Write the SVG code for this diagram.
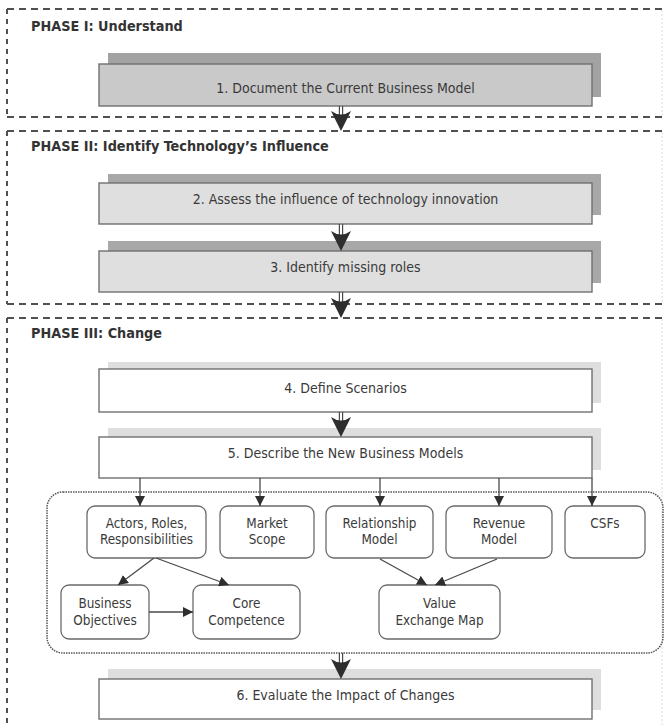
<svg xmlns="http://www.w3.org/2000/svg" width="664" height="726" viewBox="0 0 664 726">
  <style>
    .phase { fill: none; stroke: #505050; stroke-width: 2; stroke-dasharray: 7 5; }
    .phase-side { fill: none; stroke: #505050; stroke-width: 2; stroke-dasharray: 5 5; }
    .phase-edge { fill: none; stroke: #dcdcdc; stroke-width: 1; stroke-dasharray: 2 2; }
    .title { font-family: "DejaVu Sans Condensed", "DejaVu Sans", sans-serif; font-weight: bold; font-size: 14.3px; fill: #333333; }
    .label { font-family: "DejaVu Sans Condensed", "DejaVu Sans", sans-serif; font-size: 14px; fill: #3a3a3a; text-anchor: middle; }
    .small { font-family: "DejaVu Sans Condensed", "DejaVu Sans", sans-serif; font-size: 13.4px; fill: #3a3a3a; text-anchor: middle; }
    .box { stroke: #707070; stroke-width: 1.4; }
    .g1 { fill: #c9c9c9; }
    .s1 { fill: #a2a2a2; }
    .g2 { fill: #dfdfdf; }
    .s2 { fill: #a8a8a8; }
    .g3 { fill: #ffffff; }
    .s3 { fill: #dedede; }
    .sub { fill: #ffffff; stroke: #6a6a6a; stroke-width: 1.3; }
    .container { fill: none; stroke: #555555; stroke-width: 1.5; stroke-dasharray: 1.5 1; }
    .link { fill: none; stroke: #4a4a4a; stroke-width: 1.3; }
    .shaft { fill: none; stroke: #4a4a4a; stroke-width: 1.2; }
    .head { fill: #2e2e2e; }
  </style>
  <defs>
    <marker id="tri" viewBox="0 0 10 10" refX="10" refY="5" markerWidth="10" markerHeight="10" markerUnits="userSpaceOnUse" orient="auto">
      <path d="M0,0 L10,5 L0,10 Z" fill="#2e2e2e"/>
    </marker>
    <!-- big downward arrowhead, tip at origin -->
    <path id="bighead" d="M-10,-20 Q0,-13 10,-20 L0,0 Z"/>
  </defs>

  <!-- phase frames -->
  <g id="phase1">
    <path class="phase" d="M7,9 H664 M7,117 H664"/>
    <path class="phase-side" d="M7,9 V117"/>
    <path class="phase-edge" d="M662,10 V116"/>
    <text class="title" x="31" y="31">PHASE I: Understand</text>
  </g>
  <g id="phase2">
    <path class="phase" d="M7,131 H664 M7,304 H664"/>
    <path class="phase-side" d="M7,131 V304"/>
    <path class="phase-edge" d="M662,132 V303"/>
    <text class="title" x="31" y="151">PHASE II: Identify Technology’s Influence</text>
  </g>
  <g id="phase3">
    <path class="phase" d="M7,318 H664"/>
    <path class="phase-side" d="M7,318 V726"/>
    <path class="phase-edge" d="M662,319 V726"/>
    <text class="title" x="31" y="338">PHASE III: Change</text>
  </g>

  <!-- step boxes -->
  <g id="step1">
    <rect class="s1" x="108" y="53" width="493" height="44"/>
    <rect class="box g1" x="99" y="64" width="493" height="42"/>
    <text class="label" x="345.5" y="93">1. Document the Current Business Model</text>
  </g>
  <g id="step2">
    <rect class="s2" x="108" y="174" width="493" height="41"/>
    <rect class="box g2" x="99" y="183" width="493" height="41"/>
    <text class="label" x="345.5" y="204">2. Assess the influence of technology innovation</text>
  </g>
  <g id="step3">
    <rect class="s2" x="108" y="241" width="493" height="42"/>
    <rect class="box g2" x="99" y="251" width="493" height="41"/>
    <text class="label" x="345.5" y="272">3. Identify missing roles</text>
  </g>
  <g id="step4">
    <rect class="s3" x="108" y="362" width="493" height="41"/>
    <rect class="box g3" x="99" y="369" width="493" height="43"/>
    <text class="label" x="345.5" y="393">4. Define Scenarios</text>
  </g>
  <g id="step5">
    <rect class="s3" x="108" y="428" width="493" height="42"/>
    <rect class="box g3" x="99" y="437" width="493" height="41"/>
    <text class="label" x="345.5" y="458">5. Describe the New Business Models</text>
  </g>
  <g id="step6">
    <rect class="s3" x="108" y="669" width="493" height="41"/>
    <rect class="box g3" x="99" y="679" width="493" height="40"/>
    <text class="label" x="345.5" y="700">6. Evaluate the Impact of Changes</text>
  </g>

  <!-- business model elements -->
  <g id="elements">
    <rect class="container" x="47" y="492" width="616" height="161" rx="16"/>
  </g>
  <g id="actors">
    <rect class="sub" x="87" y="506" width="119" height="52" rx="8"/>
    <text class="small" x="146.5" y="528">Actors, Roles,</text>
    <text class="small" x="146.5" y="544">Responsibilities</text>
  </g>
  <g id="market">
    <rect class="sub" x="220" y="506" width="94" height="52" rx="8"/>
    <text class="small" x="267" y="528">Market</text>
    <text class="small" x="267" y="544">Scope</text>
  </g>
  <g id="relationship">
    <rect class="sub" x="326" y="506" width="107" height="52" rx="8"/>
    <text class="small" x="379.5" y="528">Relationship</text>
    <text class="small" x="379.5" y="544">Model</text>
  </g>
  <g id="revenue">
    <rect class="sub" x="446" y="506" width="106" height="52" rx="8"/>
    <text class="small" x="499" y="528">Revenue</text>
    <text class="small" x="499" y="544">Model</text>
  </g>
  <g id="csfs">
    <rect class="sub" x="565" y="506" width="80" height="52" rx="8"/>
    <text class="small" x="605" y="528">CSFs</text>
  </g>
  <g id="objectives">
    <rect class="sub" x="61" y="585" width="88" height="54" rx="8"/>
    <text class="small" x="105" y="608">Business</text>
    <text class="small" x="105" y="625">Objectives</text>
  </g>
  <g id="competence">
    <rect class="sub" x="193" y="585" width="107" height="54" rx="8"/>
    <text class="small" x="246.5" y="608">Core</text>
    <text class="small" x="246.5" y="625">Competence</text>
  </g>
  <g id="valuemap">
    <rect class="sub" x="379" y="585" width="121" height="54" rx="8"/>
    <text class="small" x="439.5" y="608">Value</text>
    <text class="small" x="439.5" y="625">Exchange Map</text>
  </g>

  <!-- connectors -->
  <g id="connectors">
    <!-- double-shaft flow arrows between steps -->
    <path class="shaft" d="M339.4,106 V118 M342.6,106 V118"/>
    <use href="#bighead" class="head" x="341" y="131"/>
    <path class="shaft" d="M339.4,224 V238 M342.6,224 V238"/>
    <use href="#bighead" class="head" x="341" y="251"/>
    <path class="shaft" d="M339.4,292 V305 M342.6,292 V305"/>
    <use href="#bighead" class="head" x="341" y="318"/>
    <path class="shaft" d="M339.4,412 V424 M342.6,412 V424"/>
    <use href="#bighead" class="head" x="341" y="437"/>
    <path class="shaft" d="M339.4,653 V666 M342.6,653 V666"/>
    <use href="#bighead" class="head" x="341" y="679"/>

    <!-- step 5 to its elements -->
    <path class="link" marker-end="url(#tri)" d="M140,478 V506"/>
    <path class="link" marker-end="url(#tri)" d="M260,478 V506"/>
    <path class="link" marker-end="url(#tri)" d="M380,478 V506"/>
    <path class="link" marker-end="url(#tri)" d="M499,478 V506"/>
    <path class="link" marker-end="url(#tri)" d="M592,478 V506"/>

    <!-- element relations -->
    <path class="link" marker-end="url(#tri)" d="M154,558 L118,585"/>
    <path class="link" marker-end="url(#tri)" d="M156,558 L229,585"/>
    <path class="link" marker-end="url(#tri)" d="M149,612 H193"/>
    <path class="link" marker-end="url(#tri)" d="M380,559 L427,585"/>
    <path class="link" marker-end="url(#tri)" d="M497,559 L435,585"/>
  </g>
</svg>
